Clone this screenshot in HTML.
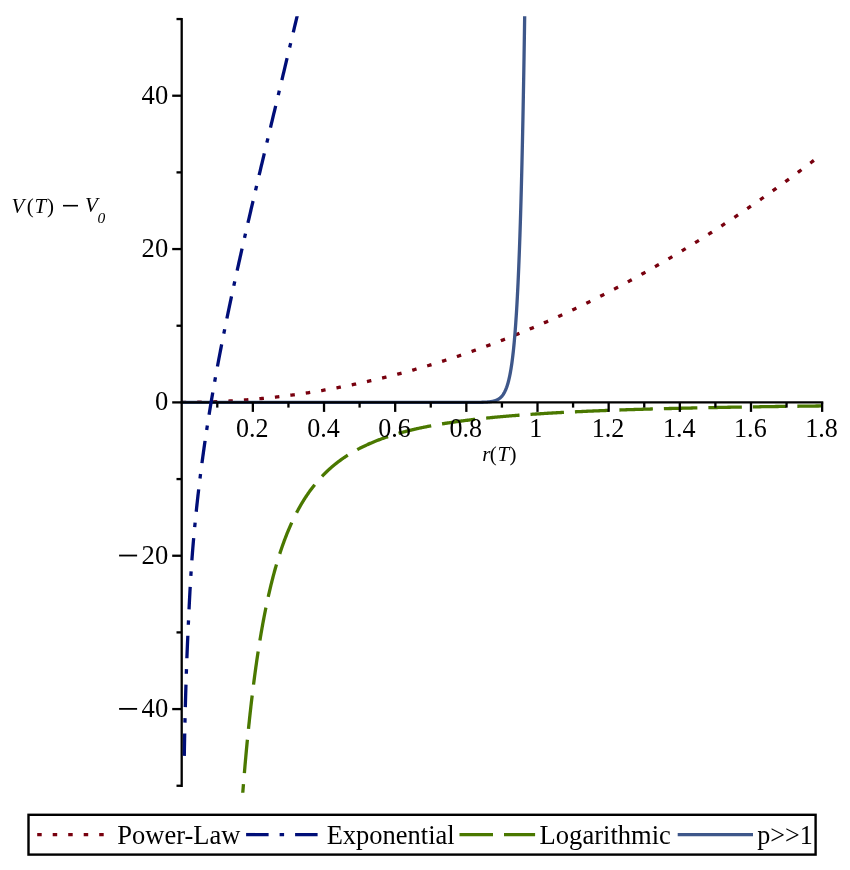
<!DOCTYPE html>
<html><head><meta charset="utf-8"><title>Plot</title>
<style>html,body{margin:0;padding:0;background:#fff;}body{width:850px;height:870px;overflow:hidden;font-family:"Liberation Serif",serif;}svg{display:block;will-change:transform}</style>
</head><body>
<svg width="850" height="870" viewBox="0 0 850 870">
<defs><clipPath id="cp"><rect x="0" y="16.3" width="850" height="776.5"/></clipPath></defs>
<rect width="850" height="870" fill="#fff"/>
<g fill="none" stroke-width="3.3" clip-path="url(#cp)" stroke-linejoin="round">
<path d="M181.70,402.40 L182.77,402.40 L183.84,402.40 L184.91,402.39 L185.98,402.39 L187.05,402.38 L188.12,402.38 L189.18,402.37 L190.25,402.36 L191.32,402.34 L192.39,402.33 L193.46,402.32 L194.53,402.30 L195.60,402.28 L196.67,402.26 L197.74,402.24 L198.81,402.22 L199.88,402.20 L200.95,402.18 L202.01,402.15 L203.08,402.12 L204.15,402.09 L205.22,402.06 L206.29,402.03 L207.36,402.00 L208.43,401.97 L209.50,401.93 L210.57,401.90 L211.64,401.86 L212.71,401.82 L213.78,401.78 L214.84,401.73 L215.91,401.69 L216.98,401.65 L218.05,401.60 L219.12,401.55 L220.19,401.50 L221.26,401.45 L222.33,401.40 L223.40,401.35 L224.47,401.29 L225.54,401.24 L226.61,401.18 L227.67,401.12 L228.74,401.06 L229.81,401.00 L230.88,400.94 L231.95,400.87 L233.02,400.80 L234.09,400.74 L235.16,400.67 L236.23,400.60 L237.30,400.53 L238.37,400.46 L239.44,400.38 L240.51,400.31 L241.57,400.23 L242.64,400.15 L243.71,400.07 L244.78,399.99 L245.85,399.91 L246.92,399.82 L247.99,399.74 L249.06,399.65 L250.13,399.56 L251.20,399.47 L252.27,399.38 L253.34,399.29 L254.40,399.20 L255.47,399.10 L256.54,399.01 L257.61,398.91 L258.68,398.81 L259.75,398.71 L260.82,398.61 L261.89,398.51 L262.96,398.40 L264.03,398.30 L265.10,398.19 L266.17,398.08 L267.23,397.97 L268.30,397.86 L269.37,397.74 L270.44,397.63 L271.51,397.51 L272.58,397.40 L273.65,397.28 L274.72,397.16 L275.79,397.04 L276.86,396.92 L277.93,396.79 L279.00,396.67 L280.06,396.54 L281.13,396.41 L282.20,396.28 L283.27,396.15 L284.34,396.02 L285.41,395.89 L286.48,395.75 L287.55,395.61 L288.62,395.48 L289.69,395.34 L290.76,395.20 L291.83,395.06 L292.89,394.91 L293.96,394.77 L295.03,394.62 L296.10,394.47 L297.17,394.32 L298.24,394.17 L299.31,394.02 L300.38,393.87 L301.45,393.72 L302.52,393.56 L303.59,393.40 L304.66,393.24 L305.73,393.08 L306.79,392.92 L307.86,392.76 L308.93,392.60 L310.00,392.43 L311.07,392.26 L312.14,392.10 L313.21,391.93 L314.28,391.75 L315.35,391.58 L316.42,391.41 L317.49,391.23 L318.56,391.06 L319.62,390.88 L320.69,390.70 L321.76,390.52 L322.83,390.34 L323.90,390.15 L324.97,389.97 L326.04,389.78 L327.11,389.59 L328.18,389.41 L329.25,389.22 L330.32,389.02 L331.39,388.83 L332.45,388.64 L333.52,388.44 L334.59,388.24 L335.66,388.04 L336.73,387.84 L337.80,387.64 L338.87,387.44 L339.94,387.24 L341.01,387.03 L342.08,386.82 L343.15,386.61 L344.22,386.40 L345.28,386.19 L346.35,385.98 L347.42,385.77 L348.49,385.55 L349.56,385.33 L350.63,385.12 L351.70,384.90 L352.77,384.68 L353.84,384.45 L354.91,384.23 L355.98,384.01 L357.05,383.78 L358.12,383.55 L359.18,383.32 L360.25,383.09 L361.32,382.86 L362.39,382.63 L363.46,382.39 L364.53,382.16 L365.60,381.92 L366.67,381.68 L367.74,381.44 L368.81,381.20 L369.88,380.95 L370.95,380.71 L372.01,380.46 L373.08,380.22 L374.15,379.97 L375.22,379.72 L376.29,379.47 L377.36,379.21 L378.43,378.96 L379.50,378.70 L380.57,378.45 L381.64,378.19 L382.71,377.93 L383.78,377.67 L384.84,377.41 L385.91,377.14 L386.98,376.88 L388.05,376.61 L389.12,376.34 L390.19,376.07 L391.26,375.80 L392.33,375.53 L393.40,375.26 L394.47,374.98 L395.54,374.71 L396.61,374.43 L397.67,374.15 L398.74,373.87 L399.81,373.59 L400.88,373.30 L401.95,373.02 L403.02,372.73 L404.09,372.45 L405.16,372.16 L406.23,371.87 L407.30,371.58 L408.37,371.28 L409.44,370.99 L410.50,370.69 L411.57,370.40 L412.64,370.10 L413.71,369.80 L414.78,369.50 L415.85,369.19 L416.92,368.89 L417.99,368.59 L419.06,368.28 L420.13,367.97 L421.20,367.66 L422.27,367.35 L423.34,367.04 L424.40,366.72 L425.47,366.41 L426.54,366.09 L427.61,365.78 L428.68,365.46 L429.75,365.14 L430.82,364.81 L431.89,364.49 L432.96,364.17 L434.03,363.84 L435.10,363.51 L436.17,363.18 L437.23,362.85 L438.30,362.52 L439.37,362.19 L440.44,361.85 L441.51,361.52 L442.58,361.18 L443.65,360.84 L444.72,360.50 L445.79,360.16 L446.86,359.82 L447.93,359.47 L449.00,359.13 L450.06,358.78 L451.13,358.43 L452.20,358.08 L453.27,357.73 L454.34,357.38 L455.41,357.03 L456.48,356.67 L457.55,356.32 L458.62,355.96 L459.69,355.60 L460.76,355.24 L461.83,354.88 L462.89,354.51 L463.96,354.15 L465.03,353.78 L466.10,353.41 L467.17,353.04 L468.24,352.67 L469.31,352.30 L470.38,351.93 L471.45,351.55 L472.52,351.18 L473.59,350.80 L474.66,350.42 L475.73,350.04 L476.79,349.66 L477.86,349.28 L478.93,348.89 L480.00,348.51 L481.07,348.12 L482.14,347.73 L483.21,347.34 L484.28,346.95 L485.35,346.56 L486.42,346.17 L487.49,345.77 L488.56,345.37 L489.62,344.97 L490.69,344.58 L491.76,344.17 L492.83,343.77 L493.90,343.37 L494.97,342.96 L496.04,342.56 L497.11,342.15 L498.18,341.74 L499.25,341.33 L500.32,340.92 L501.39,340.50 L502.45,340.09 L503.52,339.67 L504.59,339.26 L505.66,338.84 L506.73,338.42 L507.80,338.00 L508.87,337.57 L509.94,337.15 L511.01,336.72 L512.08,336.30 L513.15,335.87 L514.22,335.44 L515.28,335.01 L516.35,334.57 L517.42,334.14 L518.49,333.70 L519.56,333.27 L520.63,332.83 L521.70,332.39 L522.77,331.95 L523.84,331.50 L524.91,331.06 L525.98,330.62 L527.05,330.17 L528.11,329.72 L529.18,329.27 L530.25,328.82 L531.32,328.37 L532.39,327.92 L533.46,327.46 L534.53,327.00 L535.60,326.55 L536.67,326.09 L537.74,325.63 L538.81,325.17 L539.88,324.70 L540.95,324.24 L542.01,323.77 L543.08,323.30 L544.15,322.84 L545.22,322.37 L546.29,321.89 L547.36,321.42 L548.43,320.95 L549.50,320.47 L550.57,319.99 L551.64,319.52 L552.71,319.04 L553.78,318.56 L554.84,318.07 L555.91,317.59 L556.98,317.10 L558.05,316.62 L559.12,316.13 L560.19,315.64 L561.26,315.15 L562.33,314.66 L563.40,314.16 L564.47,313.67 L565.54,313.17 L566.61,312.67 L567.67,312.17 L568.74,311.67 L569.81,311.17 L570.88,310.67 L571.95,310.16 L573.02,309.66 L574.09,309.15 L575.16,308.64 L576.23,308.13 L577.30,307.62 L578.37,307.11 L579.44,306.59 L580.50,306.08 L581.57,305.56 L582.64,305.04 L583.71,304.52 L584.78,304.00 L585.85,303.48 L586.92,302.95 L587.99,302.43 L589.06,301.90 L590.13,301.37 L591.20,300.84 L592.27,300.31 L593.34,299.78 L594.40,299.24 L595.47,298.71 L596.54,298.17 L597.61,297.64 L598.68,297.10 L599.75,296.56 L600.82,296.01 L601.89,295.47 L602.96,294.92 L604.03,294.38 L605.10,293.83 L606.17,293.28 L607.23,292.73 L608.30,292.18 L609.37,291.63 L610.44,291.07 L611.51,290.52 L612.58,289.96 L613.65,289.40 L614.72,288.84 L615.79,288.28 L616.86,287.72 L617.93,287.15 L619.00,286.59 L620.06,286.02 L621.13,285.45 L622.20,284.88 L623.27,284.31 L624.34,283.74 L625.41,283.16 L626.48,282.59 L627.55,282.01 L628.62,281.43 L629.69,280.85 L630.76,280.27 L631.83,279.69 L632.89,279.11 L633.96,278.52 L635.03,277.93 L636.10,277.35 L637.17,276.76 L638.24,276.17 L639.31,275.58 L640.38,274.98 L641.45,274.39 L642.52,273.79 L643.59,273.19 L644.66,272.59 L645.72,271.99 L646.79,271.39 L647.86,270.79 L648.93,270.19 L650.00,269.58 L651.07,268.97 L652.14,268.36 L653.21,267.75 L654.28,267.14 L655.35,266.53 L656.42,265.92 L657.49,265.30 L658.56,264.68 L659.62,264.07 L660.69,263.45 L661.76,262.82 L662.83,262.20 L663.90,261.58 L664.97,260.95 L666.04,260.33 L667.11,259.70 L668.18,259.07 L669.25,258.44 L670.32,257.81 L671.39,257.17 L672.45,256.54 L673.52,255.90 L674.59,255.26 L675.66,254.63 L676.73,253.98 L677.80,253.34 L678.87,252.70 L679.94,252.06 L681.01,251.41 L682.08,250.76 L683.15,250.11 L684.22,249.46 L685.28,248.81 L686.35,248.16 L687.42,247.50 L688.49,246.85 L689.56,246.19 L690.63,245.53 L691.70,244.87 L692.77,244.21 L693.84,243.55 L694.91,242.89 L695.98,242.22 L697.05,241.55 L698.11,240.89 L699.18,240.22 L700.25,239.55 L701.32,238.87 L702.39,238.20 L703.46,237.52 L704.53,236.85 L705.60,236.17 L706.67,235.49 L707.74,234.81 L708.81,234.13 L709.88,233.45 L710.95,232.76 L712.01,232.07 L713.08,231.39 L714.15,230.70 L715.22,230.01 L716.29,229.32 L717.36,228.62 L718.43,227.93 L719.50,227.23 L720.57,226.54 L721.64,225.84 L722.71,225.14 L723.78,224.44 L724.84,223.73 L725.91,223.03 L726.98,222.32 L728.05,221.62 L729.12,220.91 L730.19,220.20 L731.26,219.49 L732.33,218.78 L733.40,218.06 L734.47,217.35 L735.54,216.63 L736.61,215.91 L737.67,215.19 L738.74,214.47 L739.81,213.75 L740.88,213.03 L741.95,212.30 L743.02,211.57 L744.09,210.85 L745.16,210.12 L746.23,209.39 L747.30,208.66 L748.37,207.92 L749.44,207.19 L750.50,206.45 L751.57,205.71 L752.64,204.98 L753.71,204.24 L754.78,203.49 L755.85,202.75 L756.92,202.01 L757.99,201.26 L759.06,200.51 L760.13,199.77 L761.20,199.02 L762.27,198.27 L763.33,197.51 L764.40,196.76 L765.47,196.00 L766.54,195.25 L767.61,194.49 L768.68,193.73 L769.75,192.97 L770.82,192.21 L771.89,191.44 L772.96,190.68 L774.03,189.91 L775.10,189.14 L776.17,188.37 L777.23,187.60 L778.30,186.83 L779.37,186.06 L780.44,185.28 L781.51,184.51 L782.58,183.73 L783.65,182.95 L784.72,182.17 L785.79,181.39 L786.86,180.61 L787.93,179.82 L789.00,179.04 L790.06,178.25 L791.13,177.46 L792.20,176.67 L793.27,175.88 L794.34,175.09 L795.41,174.29 L796.48,173.50 L797.55,172.70 L798.62,171.90 L799.69,171.10 L800.76,170.30 L801.83,169.50 L802.89,168.69 L803.96,167.89 L805.03,167.08 L806.10,166.27 L807.17,165.47 L808.24,164.65 L809.31,163.84 L810.38,163.03 L811.45,162.21 L812.52,161.40 L813.59,160.58 L814.66,159.76 L815.72,158.94 L816.79,158.12 L817.86,157.30 L818.93,156.47 L820.00,155.65 L821.07,154.82 L822.14,153.99" stroke="#78000E" stroke-dasharray="4.5 11.066"/>
<path d="M240.41,824.82 L240.58,822.31 L240.76,819.80 L240.94,817.31 L241.11,814.84 L241.29,812.38 L241.47,809.93 L241.65,807.50 L241.83,805.09 L242.01,802.69 L242.19,800.30 L242.37,797.92 L242.55,795.57 L242.73,793.22 L242.92,790.89 L243.10,788.57 L243.28,786.27 L243.47,783.98 L243.65,781.71 L243.84,779.44 L244.03,777.20 L244.21,774.96 L244.40,772.74 L244.59,770.53 L244.78,768.33 L244.96,766.15 L245.15,763.98 L245.34,761.83 L245.53,759.68 L245.73,757.55 L245.92,755.43 L246.11,753.33 L246.30,751.24 L246.50,749.16 L246.69,747.09 L246.89,745.03 L247.08,742.99 L247.28,740.96 L247.47,738.94 L247.67,736.93 L247.87,734.94 L248.07,732.95 L248.26,730.98 L248.46,729.02 L248.66,727.08 L248.86,725.14 L249.07,723.21 L249.27,721.30 L249.47,719.40 L249.67,717.51 L249.88,715.63 L250.08,713.76 L250.29,711.90 L250.49,710.06 L250.70,708.22 L250.90,706.40 L251.11,704.59 L251.32,702.79 L251.53,700.99 L251.74,699.21 L251.95,697.44 L252.16,695.68 L252.37,693.93 L252.58,692.20 L252.79,690.47 L253.00,688.75 L253.22,687.04 L253.43,685.34 L253.65,683.66 L253.86,681.98 L254.08,680.31 L254.30,678.66 L254.51,677.01 L254.73,675.37 L254.95,673.74 L255.17,672.12 L255.39,670.52 L255.61,668.92 L255.83,667.33 L256.05,665.75 L256.28,664.18 L256.50,662.62 L256.72,661.06 L256.95,659.52 L257.17,657.99 L257.40,656.46 L257.63,654.95 L257.85,653.44 L258.08,651.95 L258.31,650.46 L258.54,648.98 L258.77,647.51 L259.00,646.05 L259.23,644.59 L259.46,643.15 L259.70,641.71 L259.93,640.29 L260.17,638.87 L260.40,637.46 L260.64,636.05 L260.87,634.66 L261.11,633.28 L261.35,631.90 L261.59,630.53 L261.83,629.17 L262.07,627.82 L262.31,626.47 L262.55,625.14 L262.79,623.81 L263.03,622.49 L263.28,621.18 L263.52,619.87 L263.77,618.57 L264.01,617.29 L264.26,616.00 L264.51,614.73 L264.75,613.46 L265.00,612.20 L265.25,610.95 L265.50,609.71 L265.75,608.47 L266.00,607.24 L266.26,606.02 L266.51,604.81 L266.76,603.60 L267.02,602.40 L267.27,601.21 L267.53,600.02 L267.79,598.84 L268.05,597.67 L268.30,596.51 L268.56,595.35 L268.82,594.20 L269.09,593.06 L269.35,591.92 L269.61,590.79 L269.87,589.67 L270.14,588.55 L270.40,587.44 L270.67,586.34 L270.93,585.24 L271.20,584.15 L271.47,583.06 L271.74,581.99 L272.01,580.92 L272.28,579.85 L272.55,578.79 L272.82,577.74 L273.09,576.70 L273.37,575.66 L273.64,574.62 L273.92,573.60 L274.19,572.57 L274.47,571.56 L274.75,570.55 L275.03,569.55 L275.31,568.55 L275.59,567.56 L275.87,566.58 L276.15,565.60 L276.43,564.62 L276.72,563.66 L277.00,562.69 L277.29,561.74 L277.57,560.79 L277.86,559.84 L278.15,558.90 L278.44,557.97 L278.73,557.04 L279.02,556.12 L279.31,555.20 L279.60,554.29 L279.90,553.39 L280.19,552.49 L280.49,551.59 L280.78,550.70 L281.08,549.82 L281.38,548.94 L281.67,548.06 L281.97,547.20 L282.27,546.33 L282.57,545.47 L282.88,544.62 L283.18,543.77 L283.48,542.93 L283.79,542.09 L284.09,541.26 L284.40,540.43 L284.71,539.61 L285.02,538.79 L285.33,537.98 L285.64,537.17 L285.95,536.36 L286.26,535.56 L286.57,534.77 L286.89,533.98 L287.20,533.20 L287.52,532.42 L287.84,531.64 L288.15,530.87 L288.47,530.10 L288.79,529.34 L289.11,528.59 L289.44,527.83 L289.76,527.09 L290.08,526.34 L290.41,525.60 L290.73,524.87 L291.06,524.14 L291.39,523.41 L291.71,522.69 L292.04,521.97 L292.37,521.26 L292.71,520.55 L293.04,519.85 L293.37,519.15 L293.71,518.45 L294.04,517.76 L294.38,517.07 L294.72,516.39 L295.05,515.71 L295.39,515.03 L295.73,514.36 L296.08,513.69 L296.42,513.03 L296.76,512.37 L297.11,511.71 L297.45,511.06 L297.80,510.41 L298.15,509.77 L298.50,509.13 L298.85,508.49 L299.20,507.86 L299.55,507.23 L299.90,506.60 L300.26,505.98 L300.61,505.36 L300.97,504.75 L301.32,504.14 L301.68,503.53 L302.04,502.93 L302.40,502.33 L302.76,501.73 L303.13,501.14 L303.49,500.55 L303.85,499.97 L304.22,499.39 L304.59,498.81 L304.96,498.23 L305.32,497.66 L305.70,497.09 L306.07,496.53 L306.44,495.97 L306.81,495.41 L307.19,494.85 L307.56,494.30 L307.94,493.76 L308.32,493.21 L308.70,492.67 L309.08,492.13 L309.46,491.60 L309.84,491.06 L310.23,490.53 L310.61,490.01 L311.00,489.49 L311.38,488.97 L311.77,488.45 L312.16,487.94 L312.55,487.43 L312.95,486.92 L313.34,486.42 L313.73,485.92 L314.13,485.42 L314.52,484.92 L314.92,484.43 L315.32,483.94 L315.72,483.45 L316.12,482.97 L316.53,482.49 L316.93,482.01 L317.33,481.54 L317.74,481.07 L318.15,480.60 L318.56,480.13 L318.97,479.67 L319.38,479.21 L319.79,478.75 L320.20,478.29 L320.62,477.84 L321.03,477.39 L321.45,476.94 L321.87,476.50 L322.29,476.06 L322.71,475.62 L323.13,475.18 L323.56,474.75 L323.98,474.32 L324.41,473.89 L324.84,473.46 L325.27,473.04 L325.70,472.62 L326.13,472.20 L326.56,471.78 L326.99,471.37 L327.43,470.96 L327.86,470.55 L328.30,470.14 L328.74,469.74 L329.18,469.33 L329.62,468.94 L330.07,468.54 L330.51,468.14 L330.96,467.75 L331.40,467.36 L331.85,466.98 L332.30,466.59 L332.75,466.21 L333.21,465.83 L333.66,465.45 L334.11,465.07 L334.57,464.70 L335.03,464.33 L335.49,463.96 L335.95,463.59 L336.41,463.23 L336.87,462.86 L337.34,462.50 L337.81,462.14 L338.27,461.79 L338.74,461.43 L339.21,461.08 L339.68,460.73 L340.16,460.38 L340.63,460.04 L341.11,459.69 L341.59,459.35 L342.06,459.01 L342.54,458.68 L343.03,458.34 L343.51,458.01 L343.99,457.67 L344.48,457.34 L344.97,457.02 L345.46,456.69 L345.95,456.37 L346.44,456.05 L346.93,455.73 L347.43,455.41 L347.92,455.09 L348.42,454.78 L348.92,454.47 L349.42,454.15 L349.92,453.85 L350.43,453.54 L350.93,453.23 L351.44,452.93 L351.95,452.63 L352.46,452.33 L352.97,452.03 L353.48,451.74 L354.00,451.44 L354.51,451.15 L355.03,450.86 L355.55,450.57 L356.07,450.28 L356.59,450.00 L357.12,449.71 L357.64,449.43 L358.17,449.15 L358.70,448.87 L359.23,448.59 L359.76,448.32 L360.29,448.05 L360.83,447.77 L361.36,447.50 L361.90,447.23 L362.44,446.97 L362.98,446.70 L363.53,446.44 L364.07,446.17 L364.62,445.91 L365.17,445.65 L365.72,445.40 L366.27,445.14 L366.82,444.88 L367.37,444.63 L367.93,444.38 L368.49,444.13 L369.05,443.88 L369.61,443.63 L370.17,443.39 L370.74,443.14 L371.30,442.90 L371.87,442.66 L372.44,442.42 L373.01,442.18 L373.58,441.94 L374.16,441.71 L374.73,441.47 L375.31,441.24 L375.89,441.01 L376.47,440.78 L377.06,440.55 L377.64,440.32 L378.23,440.09 L378.82,439.87 L379.41,439.65 L380.00,439.42 L380.60,439.20 L381.19,438.98 L381.79,438.77 L382.39,438.55 L382.99,438.33 L383.59,438.12 L384.20,437.91 L384.80,437.69 L385.41,437.48 L386.02,437.27 L386.63,437.07 L387.25,436.86 L387.86,436.65 L388.48,436.45 L389.10,436.25 L389.72,436.04 L390.34,435.84 L390.97,435.64 L391.60,435.45 L392.22,435.25 L392.86,435.05 L393.49,434.86 L394.12,434.66 L394.76,434.47 L395.40,434.28 L396.04,434.09 L396.68,433.90 L397.32,433.71 L397.97,433.53 L398.62,433.34 L399.27,433.16 L399.92,432.97 L400.57,432.79 L401.23,432.61 L401.88,432.43 L402.54,432.25 L403.20,432.07 L403.87,431.90 L404.53,431.72 L405.20,431.55 L405.87,431.37 L406.54,431.20 L407.22,431.03 L407.89,430.86 L408.57,430.69 L409.25,430.52 L409.93,430.35 L410.61,430.18 L411.30,430.02 L411.99,429.85 L412.68,429.69 L413.37,429.53 L414.06,429.36 L414.76,429.20 L415.46,429.04 L416.16,428.89 L416.86,428.73 L417.56,428.57 L418.27,428.41 L418.98,428.26 L419.69,428.10 L420.40,427.95 L421.12,427.80 L421.83,427.65 L422.55,427.50 L423.27,427.35 L424.00,427.20 L424.72,427.05 L425.45,426.90 L426.18,426.76 L426.91,426.61 L427.65,426.47 L428.38,426.32 L429.12,426.18 L429.86,426.04 L430.61,425.90 L431.35,425.76 L432.10,425.62 L432.85,425.48 L433.60,425.34 L434.36,425.21 L435.11,425.07 L435.87,424.94 L436.64,424.80 L437.40,424.67 L438.16,424.53 L438.93,424.40 L439.70,424.27 L440.48,424.14 L441.25,424.01 L442.03,423.88 L442.81,423.75 L443.59,423.63 L444.37,423.50 L445.16,423.37 L445.95,423.25 L446.74,423.13 L447.54,423.00 L448.33,422.88 L449.13,422.76 L449.93,422.64 L450.74,422.51 L451.54,422.39 L452.35,422.28 L453.16,422.16 L453.97,422.04 L454.79,421.92 L455.61,421.81 L456.43,421.69 L457.25,421.57 L458.08,421.46 L458.90,421.35 L459.73,421.23 L460.57,421.12 L461.40,421.01 L462.24,420.90 L463.08,420.79 L463.92,420.68 L464.77,420.57 L465.62,420.46 L466.47,420.35 L467.32,420.25 L468.17,420.14 L469.03,420.03 L469.89,419.93 L470.76,419.82 L471.62,419.72 L472.49,419.62 L473.36,419.51 L474.23,419.41 L475.11,419.31 L475.99,419.21 L476.87,419.11 L477.76,419.01 L478.64,418.91 L479.53,418.81 L480.42,418.72 L481.32,418.62 L482.22,418.52 L483.12,418.42 L484.02,418.33 L484.92,418.23 L485.83,418.14 L486.74,418.05 L487.66,417.95 L488.57,417.86 L489.49,417.77 L490.41,417.68 L491.34,417.59 L492.27,417.49 L493.20,417.40 L494.13,417.32 L495.07,417.23 L496.00,417.14 L496.95,417.05 L497.89,416.96 L498.84,416.88 L499.79,416.79 L500.74,416.70 L501.69,416.62 L502.65,416.53 L503.61,416.45 L504.58,416.37 L505.55,416.28 L506.52,416.20 L507.49,416.12 L508.46,416.04 L509.44,415.95 L510.43,415.87 L511.41,415.79 L512.40,415.71 L513.39,415.63 L514.38,415.55 L515.38,415.48 L516.38,415.40 L517.38,415.32 L518.38,415.24 L519.39,415.17 L520.40,415.09 L521.42,415.02 L522.44,414.94 L523.46,414.87 L524.48,414.79 L525.51,414.72 L526.54,414.64 L527.57,414.57 L528.61,414.50 L529.65,414.43 L530.69,414.35 L531.73,414.28 L532.78,414.21 L533.83,414.14 L534.89,414.07 L535.95,414.00 L537.01,413.93 L538.07,413.86 L539.14,413.80 L540.21,413.73 L541.28,413.66 L542.36,413.59 L543.44,413.53 L544.52,413.46 L545.61,413.39 L546.70,413.33 L547.79,413.26 L548.89,413.20 L549.99,413.13 L551.09,413.07 L552.20,413.01 L553.31,412.94 L554.42,412.88 L555.54,412.82 L556.66,412.76 L557.78,412.69 L558.91,412.63 L560.04,412.57 L561.17,412.51 L562.31,412.45 L563.45,412.39 L564.59,412.33 L565.74,412.27 L566.89,412.21 L568.04,412.15 L569.20,412.10 L570.36,412.04 L571.52,411.98 L572.69,411.92 L573.86,411.87 L575.04,411.81 L576.21,411.75 L577.40,411.70 L578.58,411.64 L579.77,411.59 L580.96,411.53 L582.16,411.48 L583.36,411.42 L584.56,411.37 L585.77,411.32 L586.98,411.26 L588.19,411.21 L589.41,411.16 L590.63,411.11 L591.86,411.05 L593.08,411.00 L594.32,410.95 L595.55,410.90 L596.79,410.85 L598.03,410.80 L599.28,410.75 L600.53,410.70 L601.79,410.65 L603.05,410.60 L604.31,410.55 L605.57,410.50 L606.84,410.45 L608.12,410.41 L609.39,410.36 L610.67,410.31 L611.96,410.26 L613.25,410.22 L614.54,410.17 L615.84,410.12 L617.14,410.08 L618.44,410.03 L619.75,409.99 L621.06,409.94 L622.38,409.90 L623.70,409.85 L625.02,409.81 L626.35,409.76 L627.68,409.72 L629.02,409.68 L630.36,409.63 L631.70,409.59 L633.05,409.55 L634.40,409.50 L635.76,409.46 L637.12,409.42 L638.48,409.38 L639.85,409.34 L641.22,409.29 L642.60,409.25 L643.98,409.21 L645.36,409.17 L646.75,409.13 L648.14,409.09 L649.54,409.05 L650.94,409.01 L652.35,408.97 L653.76,408.93 L655.17,408.89 L656.59,408.86 L658.01,408.82 L659.44,408.78 L660.87,408.74 L662.30,408.70 L663.74,408.67 L665.19,408.63 L666.64,408.59 L668.09,408.55 L669.55,408.52 L671.01,408.48 L672.47,408.44 L673.94,408.41 L675.42,408.37 L676.90,408.34 L678.38,408.30 L679.87,408.27 L681.36,408.23 L682.85,408.20 L684.36,408.16 L685.86,408.13 L687.37,408.09 L688.89,408.06 L690.41,408.03 L691.93,407.99 L693.46,407.96 L694.99,407.93 L696.53,407.89 L698.07,407.86 L699.62,407.83 L701.17,407.80 L702.72,407.76 L704.28,407.73 L705.85,407.70 L707.42,407.67 L708.99,407.64 L710.57,407.61 L712.16,407.57 L713.75,407.54 L715.34,407.51 L716.94,407.48 L718.54,407.45 L720.15,407.42 L721.76,407.39 L723.38,407.36 L725.00,407.33 L726.63,407.30 L728.26,407.27 L729.90,407.24 L731.54,407.22 L733.19,407.19 L734.84,407.16 L736.50,407.13 L738.16,407.10 L739.82,407.07 L741.50,407.05 L743.17,407.02 L744.85,406.99 L746.54,406.96 L748.23,406.94 L749.93,406.91 L751.63,406.88 L753.34,406.86 L755.05,406.83 L756.77,406.80 L758.49,406.78 L760.22,406.75 L761.95,406.72 L763.69,406.70 L765.43,406.67 L767.18,406.65 L768.93,406.62 L770.69,406.60 L772.46,406.57 L774.23,406.55 L776.00,406.52 L777.78,406.50 L779.57,406.47 L781.36,406.45 L783.15,406.42 L784.96,406.40 L786.76,406.38 L788.57,406.35 L790.39,406.33 L792.22,406.31 L794.04,406.28 L795.88,406.26 L797.72,406.24 L799.56,406.21 L801.41,406.19 L803.27,406.17 L805.13,406.15 L807.00,406.12 L808.87,406.10 L810.75,406.08 L812.63,406.06 L814.52,406.04 L816.42,406.01 L818.32,405.99 L820.23,405.97 L822.14,405.95" stroke="#4A7800" stroke-dasharray="33.5 11.0" stroke-dashoffset="37.16"/>
<path d="M181.70,402.40 L181.93,402.40 L182.16,402.40 L182.39,402.40 L182.62,402.40 L182.85,402.40 L183.08,402.40 L183.31,402.40 L183.54,402.40 L183.77,402.40 L184.00,402.40 L184.23,402.40 L184.46,402.40 L184.69,402.40 L184.92,402.40 L185.15,402.40 L185.38,402.40 L185.61,402.40 L185.84,402.40 L186.07,402.40 L186.30,402.40 L186.53,402.40 L186.77,402.40 L187.00,402.40 L187.23,402.40 L187.46,402.40 L187.69,402.40 L187.92,402.40 L188.15,402.40 L188.38,402.40 L188.61,402.40 L188.84,402.40 L189.07,402.40 L189.30,402.40 L189.53,402.40 L189.76,402.40 L189.99,402.40 L190.22,402.40 L190.45,402.40 L190.68,402.40 L190.91,402.40 L191.14,402.40 L191.37,402.40 L191.60,402.40 L191.83,402.40 L192.06,402.40 L192.29,402.40 L192.52,402.40 L192.75,402.40 L192.98,402.40 L193.21,402.40 L193.44,402.40 L193.67,402.40 L193.90,402.40 L194.13,402.40 L194.36,402.40 L194.59,402.40 L194.82,402.40 L195.05,402.40 L195.28,402.40 L195.51,402.40 L195.74,402.40 L195.97,402.40 L196.20,402.40 L196.44,402.40 L196.67,402.40 L196.90,402.40 L197.13,402.40 L197.36,402.40 L197.59,402.40 L197.82,402.40 L198.05,402.40 L198.28,402.40 L198.51,402.40 L198.74,402.40 L198.97,402.40 L199.20,402.40 L199.43,402.40 L199.66,402.40 L199.89,402.40 L200.12,402.40 L200.35,402.40 L200.58,402.40 L200.81,402.40 L201.04,402.40 L201.27,402.40 L201.50,402.40 L201.73,402.40 L201.96,402.40 L202.19,402.40 L202.42,402.40 L202.65,402.40 L202.88,402.40 L203.11,402.40 L203.34,402.40 L203.57,402.40 L203.80,402.40 L204.03,402.40 L204.26,402.40 L204.49,402.40 L204.72,402.40 L204.95,402.40 L205.18,402.40 L205.41,402.40 L205.64,402.40 L205.87,402.40 L206.11,402.40 L206.34,402.40 L206.57,402.40 L206.80,402.40 L207.03,402.40 L207.26,402.40 L207.49,402.40 L207.72,402.40 L207.95,402.40 L208.18,402.40 L208.41,402.40 L208.64,402.40 L208.87,402.40 L209.10,402.40 L209.33,402.40 L209.56,402.40 L209.79,402.40 L210.02,402.40 L210.25,402.40 L210.48,402.40 L210.71,402.40 L210.94,402.40 L211.17,402.40 L211.40,402.40 L211.63,402.40 L211.86,402.40 L212.09,402.40 L212.32,402.40 L212.55,402.40 L212.78,402.40 L213.01,402.40 L213.24,402.40 L213.47,402.40 L213.70,402.40 L213.93,402.40 L214.16,402.40 L214.39,402.40 L214.62,402.40 L214.85,402.40 L215.08,402.40 L215.31,402.40 L215.54,402.40 L215.78,402.40 L216.01,402.40 L216.24,402.40 L216.47,402.40 L216.70,402.40 L216.93,402.40 L217.16,402.40 L217.39,402.40 L217.62,402.40 L217.85,402.40 L218.08,402.40 L218.31,402.40 L218.54,402.40 L218.77,402.40 L219.00,402.40 L219.23,402.40 L219.46,402.40 L219.69,402.40 L219.92,402.40 L220.15,402.40 L220.38,402.40 L220.61,402.40 L220.84,402.40 L221.07,402.40 L221.30,402.40 L221.53,402.40 L221.76,402.40 L221.99,402.40 L222.22,402.40 L222.45,402.40 L222.68,402.40 L222.91,402.40 L223.14,402.40 L223.37,402.40 L223.60,402.40 L223.83,402.40 L224.06,402.40 L224.29,402.40 L224.52,402.40 L224.75,402.40 L224.98,402.40 L225.21,402.40 L225.45,402.40 L225.68,402.40 L225.91,402.40 L226.14,402.40 L226.37,402.40 L226.60,402.40 L226.83,402.40 L227.06,402.40 L227.29,402.40 L227.52,402.40 L227.75,402.40 L227.98,402.40 L228.21,402.40 L228.44,402.40 L228.67,402.40 L228.90,402.40 L229.13,402.40 L229.36,402.40 L229.59,402.40 L229.82,402.40 L230.05,402.40 L230.28,402.40 L230.51,402.40 L230.74,402.40 L230.97,402.40 L231.20,402.40 L231.43,402.40 L231.66,402.40 L231.89,402.40 L232.12,402.40 L232.35,402.40 L232.58,402.40 L232.81,402.40 L233.04,402.40 L233.27,402.40 L233.50,402.40 L233.73,402.40 L233.96,402.40 L234.19,402.40 L234.42,402.40 L234.65,402.40 L234.88,402.40 L235.12,402.40 L235.35,402.40 L235.58,402.40 L235.81,402.40 L236.04,402.40 L236.27,402.40 L236.50,402.40 L236.73,402.40 L236.96,402.40 L237.19,402.40 L237.42,402.40 L237.65,402.40 L237.88,402.40 L238.11,402.40 L238.34,402.40 L238.57,402.40 L238.80,402.40 L239.03,402.40 L239.26,402.40 L239.49,402.40 L239.72,402.40 L239.95,402.40 L240.18,402.40 L240.41,402.40 L240.64,402.40 L240.87,402.40 L241.10,402.40 L241.33,402.40 L241.56,402.40 L241.79,402.40 L242.02,402.40 L242.25,402.40 L242.48,402.40 L242.71,402.40 L242.94,402.40 L243.17,402.40 L243.40,402.40 L243.63,402.40 L243.86,402.40 L244.09,402.40 L244.32,402.40 L244.55,402.40 L244.79,402.40 L245.02,402.40 L245.25,402.40 L245.48,402.40 L245.71,402.40 L245.94,402.40 L246.17,402.40 L246.40,402.40 L246.63,402.40 L246.86,402.40 L247.09,402.40 L247.32,402.40 L247.55,402.40 L247.78,402.40 L248.01,402.40 L248.24,402.40 L248.47,402.40 L248.70,402.40 L248.93,402.40 L249.16,402.40 L249.39,402.40 L249.62,402.40 L249.85,402.40 L250.08,402.40 L250.31,402.40 L250.54,402.40 L250.77,402.40 L251.00,402.40 L251.23,402.40 L251.46,402.40 L251.69,402.40 L251.92,402.40 L252.15,402.40 L252.38,402.40 L252.61,402.40 L252.84,402.40 L253.07,402.40 L253.30,402.40 L253.53,402.40 L253.76,402.40 L253.99,402.40 L254.22,402.40 L254.46,402.40 L254.69,402.40 L254.92,402.40 L255.15,402.40 L255.38,402.40 L255.61,402.40 L255.84,402.40 L256.07,402.40 L256.30,402.40 L256.53,402.40 L256.76,402.40 L256.99,402.40 L257.22,402.40 L257.45,402.40 L257.68,402.40 L257.91,402.40 L258.14,402.40 L258.37,402.40 L258.60,402.40 L258.83,402.40 L259.06,402.40 L259.29,402.40 L259.52,402.40 L259.75,402.40 L259.98,402.40 L260.21,402.40 L260.44,402.40 L260.67,402.40 L260.90,402.40 L261.13,402.40 L261.36,402.40 L261.59,402.40 L261.82,402.40 L262.05,402.40 L262.28,402.40 L262.51,402.40 L262.74,402.40 L262.97,402.40 L263.20,402.40 L263.43,402.40 L263.66,402.40 L263.89,402.40 L264.13,402.40 L264.36,402.40 L264.59,402.40 L264.82,402.40 L265.05,402.40 L265.28,402.40 L265.51,402.40 L265.74,402.40 L265.97,402.40 L266.20,402.40 L266.43,402.40 L266.66,402.40 L266.89,402.40 L267.12,402.40 L267.35,402.40 L267.58,402.40 L267.81,402.40 L268.04,402.40 L268.27,402.40 L268.50,402.40 L268.73,402.40 L268.96,402.40 L269.19,402.40 L269.42,402.40 L269.65,402.40 L269.88,402.40 L270.11,402.40 L270.34,402.40 L270.57,402.40 L270.80,402.40 L271.03,402.40 L271.26,402.40 L271.49,402.40 L271.72,402.40 L271.95,402.40 L272.18,402.40 L272.41,402.40 L272.64,402.40 L272.87,402.40 L273.10,402.40 L273.33,402.40 L273.56,402.40 L273.79,402.40 L274.03,402.40 L274.26,402.40 L274.49,402.40 L274.72,402.40 L274.95,402.40 L275.18,402.40 L275.41,402.40 L275.64,402.40 L275.87,402.40 L276.10,402.40 L276.33,402.40 L276.56,402.40 L276.79,402.40 L277.02,402.40 L277.25,402.40 L277.48,402.40 L277.71,402.40 L277.94,402.40 L278.17,402.40 L278.40,402.40 L278.63,402.40 L278.86,402.40 L279.09,402.40 L279.32,402.40 L279.55,402.40 L279.78,402.40 L280.01,402.40 L280.24,402.40 L280.47,402.40 L280.70,402.40 L280.93,402.40 L281.16,402.40 L281.39,402.40 L281.62,402.40 L281.85,402.40 L282.08,402.40 L282.31,402.40 L282.54,402.40 L282.77,402.40 L283.00,402.40 L283.23,402.40 L283.46,402.40 L283.70,402.40 L283.93,402.40 L284.16,402.40 L284.39,402.40 L284.62,402.40 L284.85,402.40 L285.08,402.40 L285.31,402.40 L285.54,402.40 L285.77,402.40 L286.00,402.40 L286.23,402.40 L286.46,402.40 L286.69,402.40 L286.92,402.40 L287.15,402.40 L287.38,402.40 L287.61,402.40 L287.84,402.40 L288.07,402.40 L288.30,402.40 L288.53,402.40 L288.76,402.40 L288.99,402.40 L289.22,402.40 L289.45,402.40 L289.68,402.40 L289.91,402.40 L290.14,402.40 L290.37,402.40 L290.60,402.40 L290.83,402.40 L291.06,402.40 L291.29,402.40 L291.52,402.40 L291.75,402.40 L291.98,402.40 L292.21,402.40 L292.44,402.40 L292.67,402.40 L292.90,402.40 L293.13,402.40 L293.37,402.40 L293.60,402.40 L293.83,402.40 L294.06,402.40 L294.29,402.40 L294.52,402.40 L294.75,402.40 L294.98,402.40 L295.21,402.40 L295.44,402.40 L295.67,402.40 L295.90,402.40 L296.13,402.40 L296.36,402.40 L296.59,402.40 L296.82,402.40 L297.05,402.40 L297.28,402.40 L297.51,402.40 L297.74,402.40 L297.97,402.40 L298.20,402.40 L298.43,402.40 L298.66,402.40 L298.89,402.40 L299.12,402.40 L299.35,402.40 L299.58,402.40 L299.81,402.40 L300.04,402.40 L300.27,402.40 L300.50,402.40 L300.73,402.40 L300.96,402.40 L301.19,402.40 L301.42,402.40 L301.65,402.40 L301.88,402.40 L302.11,402.40 L302.34,402.40 L302.57,402.40 L302.80,402.40 L303.04,402.40 L303.27,402.40 L303.50,402.40 L303.73,402.40 L303.96,402.40 L304.19,402.40 L304.42,402.40 L304.65,402.40 L304.88,402.40 L305.11,402.40 L305.34,402.40 L305.57,402.40 L305.80,402.40 L306.03,402.40 L306.26,402.40 L306.49,402.40 L306.72,402.40 L306.95,402.40 L307.18,402.40 L307.41,402.40 L307.64,402.40 L307.87,402.40 L308.10,402.40 L308.33,402.40 L308.56,402.40 L308.79,402.40 L309.02,402.40 L309.25,402.40 L309.48,402.40 L309.71,402.40 L309.94,402.40 L310.17,402.40 L310.40,402.40 L310.63,402.40 L310.86,402.40 L311.09,402.40 L311.32,402.40 L311.55,402.40 L311.78,402.40 L312.01,402.40 L312.24,402.40 L312.47,402.40 L312.71,402.40 L312.94,402.40 L313.17,402.40 L313.40,402.40 L313.63,402.40 L313.86,402.40 L314.09,402.40 L314.32,402.40 L314.55,402.40 L314.78,402.40 L315.01,402.40 L315.24,402.40 L315.47,402.40 L315.70,402.40 L315.93,402.40 L316.16,402.40 L316.39,402.40 L316.62,402.40 L316.85,402.40 L317.08,402.40 L317.31,402.40 L317.54,402.40 L317.77,402.40 L318.00,402.40 L318.23,402.40 L318.46,402.40 L318.69,402.40 L318.92,402.40 L319.15,402.40 L319.38,402.40 L319.61,402.40 L319.84,402.40 L320.07,402.40 L320.30,402.40 L320.53,402.40 L320.76,402.40 L320.99,402.40 L321.22,402.40 L321.45,402.40 L321.68,402.40 L321.91,402.40 L322.14,402.40 L322.38,402.40 L322.61,402.40 L322.84,402.40 L323.07,402.40 L323.30,402.40 L323.53,402.40 L323.76,402.40 L323.99,402.40 L324.22,402.40 L324.45,402.40 L324.68,402.40 L324.91,402.40 L325.14,402.40 L325.37,402.40 L325.60,402.40 L325.83,402.40 L326.06,402.40 L326.29,402.40 L326.52,402.40 L326.75,402.40 L326.98,402.40 L327.21,402.40 L327.44,402.40 L327.67,402.40 L327.90,402.40 L328.13,402.40 L328.36,402.40 L328.59,402.40 L328.82,402.40 L329.05,402.40 L329.28,402.40 L329.51,402.40 L329.74,402.40 L329.97,402.40 L330.20,402.40 L330.43,402.40 L330.66,402.40 L330.89,402.40 L331.12,402.40 L331.35,402.40 L331.58,402.40 L331.81,402.40 L332.05,402.40 L332.28,402.40 L332.51,402.40 L332.74,402.40 L332.97,402.40 L333.20,402.40 L333.43,402.40 L333.66,402.40 L333.89,402.40 L334.12,402.40 L334.35,402.40 L334.58,402.40 L334.81,402.40 L335.04,402.40 L335.27,402.40 L335.50,402.40 L335.73,402.40 L335.96,402.40 L336.19,402.40 L336.42,402.40 L336.65,402.40 L336.88,402.40 L337.11,402.40 L337.34,402.40 L337.57,402.40 L337.80,402.40 L338.03,402.40 L338.26,402.40 L338.49,402.40 L338.72,402.40 L338.95,402.40 L339.18,402.40 L339.41,402.40 L339.64,402.40 L339.87,402.40 L340.10,402.40 L340.33,402.40 L340.56,402.40 L340.79,402.40 L341.02,402.40 L341.25,402.40 L341.48,402.40 L341.72,402.40 L341.95,402.40 L342.18,402.40 L342.41,402.40 L342.64,402.40 L342.87,402.40 L343.10,402.40 L343.33,402.40 L343.56,402.40 L343.79,402.40 L344.02,402.40 L344.25,402.40 L344.48,402.40 L344.71,402.40 L344.94,402.40 L345.17,402.40 L345.40,402.40 L345.63,402.40 L345.86,402.40 L346.09,402.40 L346.32,402.40 L346.55,402.40 L346.78,402.40 L347.01,402.40 L347.24,402.40 L347.47,402.40 L347.70,402.40 L347.93,402.40 L348.16,402.40 L348.39,402.40 L348.62,402.40 L348.85,402.40 L349.08,402.40 L349.31,402.40 L349.54,402.40 L349.77,402.40 L350.00,402.40 L350.23,402.40 L350.46,402.40 L350.69,402.40 L350.92,402.40 L351.15,402.40 L351.39,402.40 L351.62,402.40 L351.85,402.40 L352.08,402.40 L352.31,402.40 L352.54,402.40 L352.77,402.40 L353.00,402.40 L353.23,402.40 L353.46,402.40 L353.69,402.40 L353.92,402.40 L354.15,402.40 L354.38,402.40 L354.61,402.40 L354.84,402.40 L355.07,402.40 L355.30,402.40 L355.53,402.40 L355.76,402.40 L355.99,402.40 L356.22,402.40 L356.45,402.40 L356.68,402.40 L356.91,402.40 L357.14,402.40 L357.37,402.40 L357.60,402.40 L357.83,402.40 L358.06,402.40 L358.29,402.40 L358.52,402.40 L358.75,402.40 L358.98,402.40 L359.21,402.40 L359.44,402.40 L359.67,402.40 L359.90,402.40 L360.13,402.40 L360.36,402.40 L360.59,402.40 L360.82,402.40 L361.06,402.40 L361.29,402.40 L361.52,402.40 L361.75,402.40 L361.98,402.40 L362.21,402.40 L362.44,402.40 L362.67,402.40 L362.90,402.40 L363.13,402.40 L363.36,402.40 L363.59,402.40 L363.82,402.40 L364.05,402.40 L364.28,402.40 L364.51,402.40 L364.74,402.40 L364.97,402.40 L365.20,402.40 L365.43,402.40 L365.66,402.40 L365.89,402.40 L366.12,402.40 L366.35,402.40 L366.58,402.40 L366.81,402.40 L367.04,402.40 L367.27,402.40 L367.50,402.40 L367.73,402.40 L367.96,402.40 L368.19,402.40 L368.42,402.40 L368.65,402.40 L368.88,402.40 L369.11,402.40 L369.34,402.40 L369.57,402.40 L369.80,402.40 L370.03,402.40 L370.26,402.40 L370.49,402.40 L370.72,402.40 L370.96,402.40 L371.19,402.40 L371.42,402.40 L371.65,402.40 L371.88,402.40 L372.11,402.40 L372.34,402.40 L372.57,402.40 L372.80,402.40 L373.03,402.40 L373.26,402.40 L373.49,402.40 L373.72,402.40 L373.95,402.40 L374.18,402.40 L374.41,402.40 L374.64,402.40 L374.87,402.40 L375.10,402.40 L375.33,402.40 L375.56,402.40 L375.79,402.40 L376.02,402.40 L376.25,402.40 L376.48,402.40 L376.71,402.40 L376.94,402.40 L377.17,402.40 L377.40,402.40 L377.63,402.40 L377.86,402.40 L378.09,402.40 L378.32,402.40 L378.55,402.40 L378.78,402.40 L379.01,402.40 L379.24,402.40 L379.47,402.40 L379.70,402.40 L379.93,402.40 L380.16,402.40 L380.39,402.40 L380.63,402.40 L380.86,402.40 L381.09,402.40 L381.32,402.40 L381.55,402.40 L381.78,402.40 L382.01,402.40 L382.24,402.40 L382.47,402.40 L382.70,402.40 L382.93,402.40 L383.16,402.40 L383.39,402.40 L383.62,402.40 L383.85,402.40 L384.08,402.40 L384.31,402.40 L384.54,402.40 L384.77,402.40 L385.00,402.40 L385.23,402.40 L385.46,402.40 L385.69,402.40 L385.92,402.40 L386.15,402.40 L386.38,402.40 L386.61,402.40 L386.84,402.40 L387.07,402.40 L387.30,402.40 L387.53,402.40 L387.76,402.40 L387.99,402.40 L388.22,402.40 L388.45,402.40 L388.68,402.40 L388.91,402.40 L389.14,402.40 L389.37,402.40 L389.60,402.40 L389.83,402.40 L390.06,402.40 L390.30,402.40 L390.53,402.40 L390.76,402.40 L390.99,402.40 L391.22,402.40 L391.45,402.40 L391.68,402.40 L391.91,402.40 L392.14,402.40 L392.37,402.40 L392.60,402.40 L392.83,402.40 L393.06,402.40 L393.29,402.40 L393.52,402.40 L393.75,402.40 L393.98,402.40 L394.21,402.40 L394.44,402.40 L394.67,402.40 L394.90,402.40 L395.13,402.40 L395.36,402.40 L395.59,402.40 L395.82,402.40 L396.05,402.40 L396.28,402.40 L396.51,402.40 L396.74,402.40 L396.97,402.40 L397.20,402.40 L397.43,402.40 L397.66,402.40 L397.89,402.40 L398.12,402.40 L398.35,402.40 L398.58,402.40 L398.81,402.40 L399.04,402.40 L399.27,402.40 L399.50,402.40 L399.73,402.40 L399.97,402.40 L400.20,402.40 L400.43,402.40 L400.66,402.40 L400.89,402.40 L401.12,402.40 L401.35,402.40 L401.58,402.40 L401.81,402.40 L402.04,402.40 L402.27,402.40 L402.50,402.40 L402.73,402.40 L402.96,402.40 L403.19,402.40 L403.42,402.40 L403.65,402.40 L403.88,402.40 L404.11,402.40 L404.34,402.40 L404.57,402.40 L404.80,402.40 L405.03,402.40 L405.26,402.40 L405.49,402.40 L405.72,402.40 L405.95,402.40 L406.18,402.40 L406.41,402.40 L406.64,402.40 L406.87,402.40 L407.10,402.40 L407.33,402.40 L407.56,402.40 L407.79,402.40 L408.02,402.40 L408.25,402.40 L408.48,402.40 L408.71,402.40 L408.94,402.40 L409.17,402.40 L409.40,402.40 L409.64,402.40 L409.87,402.40 L410.10,402.40 L410.33,402.40 L410.56,402.40 L410.79,402.40 L411.02,402.40 L411.25,402.40 L411.48,402.40 L411.71,402.40 L411.94,402.40 L412.17,402.40 L412.40,402.40 L412.63,402.40 L412.86,402.40 L413.09,402.40 L413.32,402.40 L413.55,402.40 L413.78,402.40 L414.01,402.40 L414.24,402.40 L414.47,402.40 L414.70,402.40 L414.93,402.40 L415.16,402.40 L415.39,402.40 L415.62,402.40 L415.85,402.40 L416.08,402.40 L416.31,402.40 L416.54,402.40 L416.77,402.40 L417.00,402.40 L417.23,402.40 L417.46,402.40 L417.69,402.40 L417.92,402.40 L418.15,402.40 L418.38,402.40 L418.61,402.40 L418.84,402.40 L419.07,402.40 L419.31,402.40 L419.54,402.40 L419.77,402.40 L420.00,402.40 L420.23,402.40 L420.46,402.40 L420.69,402.40 L420.92,402.40 L421.15,402.40 L421.38,402.40 L421.61,402.40 L421.84,402.40 L422.07,402.40 L422.30,402.40 L422.53,402.40 L422.76,402.40 L422.99,402.40 L423.22,402.40 L423.45,402.40 L423.68,402.40 L423.91,402.40 L424.14,402.40 L424.37,402.40 L424.60,402.40 L424.83,402.40 L425.06,402.40 L425.29,402.40 L425.52,402.40 L425.75,402.40 L425.98,402.40 L426.21,402.40 L426.44,402.40 L426.67,402.40 L426.90,402.40 L427.13,402.40 L427.36,402.40 L427.59,402.40 L427.82,402.40 L428.05,402.40 L428.28,402.40 L428.51,402.40 L428.74,402.40 L428.98,402.40 L429.21,402.40 L429.44,402.40 L429.67,402.40 L429.90,402.40 L430.13,402.40 L430.36,402.40 L430.59,402.40 L430.82,402.40 L431.05,402.40 L431.28,402.40 L431.51,402.40 L431.74,402.40 L431.97,402.40 L432.20,402.40 L432.43,402.40 L432.66,402.40 L432.89,402.40 L433.12,402.40 L433.35,402.40 L433.58,402.40 L433.81,402.40 L434.04,402.40 L434.27,402.40 L434.50,402.40 L434.73,402.40 L434.96,402.40 L435.19,402.40 L435.42,402.40 L435.65,402.40 L435.88,402.40 L436.11,402.40 L436.34,402.40 L436.57,402.40 L436.80,402.40 L437.03,402.40 L437.26,402.40 L437.49,402.40 L437.72,402.40 L437.95,402.40 L438.18,402.40 L438.41,402.40 L438.65,402.40 L438.88,402.40 L439.11,402.40 L439.34,402.40 L439.57,402.40 L439.80,402.40 L440.03,402.40 L440.26,402.40 L440.49,402.40 L440.72,402.40 L440.95,402.40 L441.18,402.40 L441.41,402.40 L441.64,402.40 L441.87,402.40 L442.10,402.40 L442.33,402.40 L442.56,402.40 L442.79,402.40 L443.02,402.40 L443.25,402.40 L443.48,402.40 L443.71,402.40 L443.94,402.40 L444.17,402.40 L444.40,402.40 L444.63,402.40 L444.86,402.40 L445.09,402.40 L445.32,402.40 L445.55,402.40 L445.78,402.40 L446.01,402.40 L446.24,402.40 L446.47,402.40 L446.70,402.40 L446.93,402.40 L447.16,402.40 L447.39,402.40 L447.62,402.40 L447.85,402.40 L448.08,402.40 L448.32,402.40 L448.55,402.40 L448.78,402.40 L449.01,402.40 L449.24,402.40 L449.47,402.40 L449.70,402.40 L449.93,402.40 L450.16,402.40 L450.39,402.40 L450.62,402.40 L450.85,402.40 L451.08,402.40 L451.31,402.40 L451.54,402.40 L451.77,402.40 L452.00,402.40 L452.23,402.40 L452.46,402.40 L452.69,402.40 L452.92,402.40 L453.15,402.40 L453.38,402.40 L453.61,402.40 L453.84,402.40 L454.07,402.40 L454.30,402.40 L454.53,402.40 L454.76,402.40 L454.99,402.40 L455.22,402.40 L455.45,402.40 L455.68,402.40 L455.91,402.40 L456.14,402.40 L456.37,402.40 L456.60,402.40 L456.83,402.40 L457.06,402.40 L457.29,402.40 L457.52,402.40 L457.75,402.40 L457.98,402.40 L458.22,402.40 L458.45,402.40 L458.68,402.40 L458.91,402.40 L459.14,402.40 L459.37,402.40 L459.60,402.40 L459.83,402.40 L460.06,402.40 L460.29,402.40 L460.52,402.40 L460.75,402.40 L460.98,402.40 L461.21,402.40 L461.44,402.40 L461.67,402.40 L461.90,402.40 L462.13,402.40 L462.36,402.40 L462.59,402.40 L462.82,402.40 L463.05,402.40 L463.28,402.40 L463.51,402.40 L463.74,402.40 L463.97,402.40 L464.20,402.40 L464.43,402.40 L464.66,402.40 L464.89,402.40 L465.12,402.40 L465.35,402.40 L465.58,402.40 L465.81,402.40 L466.04,402.39 L466.27,402.39 L466.50,402.39 L466.73,402.39 L466.96,402.39 L467.19,402.39 L467.42,402.39 L467.65,402.39 L467.89,402.39 L468.12,402.39 L468.35,402.39 L468.58,402.39 L468.81,402.39 L469.04,402.39 L469.27,402.39 L469.50,402.39 L469.73,402.39 L469.96,402.39 L470.19,402.39 L470.42,402.39 L470.65,402.39 L470.88,402.39 L471.11,402.39 L471.34,402.38 L471.57,402.38 L471.80,402.38 L472.03,402.38 L472.26,402.38 L472.49,402.38 L472.72,402.38 L472.95,402.38 L473.18,402.38 L473.41,402.38 L473.64,402.38 L473.87,402.37 L474.10,402.37 L474.33,402.37 L474.56,402.37 L474.79,402.37 L475.02,402.37 L475.25,402.37 L475.48,402.36 L475.71,402.36 L475.94,402.36 L476.17,402.36 L476.40,402.36 L476.63,402.35 L476.86,402.35 L477.09,402.35 L477.32,402.35 L477.56,402.35 L477.79,402.34 L478.02,402.34 L478.25,402.34 L478.48,402.33 L478.71,402.33 L478.94,402.33 L479.17,402.32 L479.40,402.32 L479.63,402.32 L479.86,402.31 L480.09,402.31 L480.32,402.31 L480.55,402.30 L480.78,402.30 L481.01,402.29 L481.24,402.29 L481.47,402.28 L481.70,402.27 L481.93,402.27 L482.16,402.26 L482.39,402.26 L482.62,402.25 L482.85,402.24 L483.08,402.24 L483.31,402.23 L483.54,402.22 L483.77,402.21 L484.00,402.20 L484.23,402.19 L484.46,402.18 L484.69,402.17 L484.92,402.16 L485.15,402.15 L485.38,402.14 L485.61,402.13 L485.84,402.11 L486.07,402.10 L486.30,402.09 L486.53,402.07 L486.76,402.06 L486.99,402.04 L487.23,402.03 L487.46,402.01 L487.69,401.99 L487.92,401.97 L488.15,401.95 L488.38,401.93 L488.61,401.91 L488.84,401.89 L489.07,401.86 L489.30,401.84 L489.53,401.81 L489.76,401.79 L489.99,401.76 L490.22,401.73 L490.45,401.70 L490.68,401.67 L490.91,401.63 L491.14,401.60 L491.37,401.56 L491.60,401.52 L491.83,401.48 L492.06,401.44 L492.29,401.40 L492.52,401.35 L492.75,401.30 L492.98,401.25 L493.21,401.20 L493.44,401.15 L493.67,401.09 L493.90,401.03 L494.13,400.97 L494.36,400.90 L494.59,400.84 L494.82,400.77 L495.05,400.69 L495.28,400.62 L495.51,400.54 L495.74,400.45 L495.97,400.36 L496.20,400.27 L496.43,400.18 L496.66,400.08 L496.90,399.97 L497.13,399.86 L497.36,399.75 L497.59,399.63 L497.82,399.51 L498.05,399.38 L498.28,399.24 L498.51,399.10 L498.74,398.96 L498.97,398.80 L499.20,398.64 L499.43,398.48 L499.66,398.30 L499.89,398.12 L500.12,397.93 L500.35,397.73 L500.58,397.53 L500.81,397.31 L501.04,397.09 L501.27,396.85 L501.50,396.61 L501.73,396.35 L501.96,396.08 L502.19,395.81 L502.42,395.51 L502.65,395.21 L502.88,394.90 L503.11,394.57 L503.34,394.22 L503.57,393.86 L503.80,393.49 L504.03,393.10 L504.26,392.69 L504.49,392.27 L504.72,391.82 L504.95,391.36 L505.18,390.88 L505.41,390.38 L505.64,389.85 L505.87,389.31 L506.10,388.74 L506.33,388.14 L506.57,387.52 L506.80,386.88 L507.03,386.21 L507.26,385.50 L507.49,384.77 L507.72,384.01 L507.95,383.21 L508.18,382.38 L508.41,381.52 L508.64,380.62 L508.87,379.68 L509.10,378.70 L509.33,377.67 L509.56,376.61 L509.79,375.50 L510.02,374.34 L510.25,373.14 L510.48,371.88 L510.71,370.57 L510.94,369.21 L511.17,367.79 L511.40,366.31 L511.63,364.76 L511.86,363.15 L512.09,361.48 L512.32,359.73 L512.55,357.91 L512.78,356.02 L513.01,354.04 L513.24,351.98 L513.47,349.84 L513.70,347.60 L513.93,345.28 L514.16,342.85 L514.39,340.33 L514.62,337.69 L514.85,334.95 L515.08,332.10 L515.31,329.13 L515.54,326.03 L515.77,322.80 L516.00,319.45 L516.24,315.95 L516.47,312.30 L516.70,308.51 L516.93,304.56 L517.16,300.44 L517.39,296.16 L517.62,291.70 L517.85,287.05 L518.08,282.21 L518.31,277.18 L518.54,271.93 L518.77,266.47 L519.00,260.79 L519.23,254.87 L519.46,248.71 L519.69,242.29 L519.92,235.62 L520.15,228.67 L520.38,221.43 L520.61,213.90 L520.84,206.06 L521.07,197.90 L521.30,189.41 L521.53,180.57 L521.76,171.37 L521.99,161.79 L522.22,151.83 L522.45,141.46 L522.68,130.66 L522.91,119.43 L523.14,107.75 L523.37,95.58 L523.60,82.93 L523.83,69.76 L524.06,56.06 L524.29,41.81 L524.52,26.97 L524.75,11.54 L524.98,-4.51 L525.21,-21.22 L525.44,-38.59 L525.67,-56.67 L525.91,-75.48 L526.14,-95.04 L526.37,-115.39 L526.60,-136.55 L526.83,-158.57" stroke="#3E578A"/>
</g>
<g stroke="#000" stroke-width="2.3" fill="none">
<path d="M181.7,17.90 V786.90"/>
<path d="M180.55,402.45 H823.29"/>
<path d="M176.50,785.75 H181.7"/>
<path d="M172.20,709.08 H181.7"/>
<path d="M176.50,632.41 H181.7"/>
<path d="M172.20,555.74 H181.7"/>
<path d="M176.50,479.07 H181.7"/>
<path d="M172.20,402.40 H181.7"/>
<path d="M176.50,325.73 H181.7"/>
<path d="M172.20,249.06 H181.7"/>
<path d="M176.50,172.39 H181.7"/>
<path d="M172.20,95.72 H181.7"/>
<path d="M176.50,19.05 H181.7"/>
<path d="M217.28,402.5 v5.1"/>
<path d="M252.86,402.5 v9.4"/>
<path d="M288.44,402.5 v5.1"/>
<path d="M324.02,402.5 v9.4"/>
<path d="M359.60,402.5 v5.1"/>
<path d="M395.18,402.5 v9.4"/>
<path d="M430.76,402.5 v5.1"/>
<path d="M466.34,402.5 v9.4"/>
<path d="M501.92,402.5 v5.1"/>
<path d="M537.50,402.5 v9.4"/>
<path d="M573.08,402.5 v5.1"/>
<path d="M608.66,402.5 v9.4"/>
<path d="M644.24,402.5 v5.1"/>
<path d="M679.82,402.5 v9.4"/>
<path d="M715.40,402.5 v5.1"/>
<path d="M750.98,402.5 v9.4"/>
<path d="M786.56,402.5 v5.1"/>
<path d="M822.14,402.5 v9.4"/>
</g>
<g fill="none" stroke-width="3.3" clip-path="url(#cp)" stroke-linejoin="round">
<path d="M184.28,755.85 L184.29,755.27 L184.30,754.68 L184.31,754.10 L184.32,753.52 L184.33,752.93 L184.34,752.35 L184.35,751.77 L184.36,751.18 L184.37,750.60 L184.38,750.02 L184.39,749.43 L184.40,748.85 L184.41,748.26 L184.42,747.68 L184.43,747.10 L184.44,746.51 L184.46,745.93 L184.47,745.34 L184.48,744.76 L184.49,744.17 L184.50,743.59 L184.51,743.00 L184.52,742.42 L184.53,741.83 L184.55,741.25 L184.56,740.66 L184.57,740.08 L184.58,739.49 L184.59,738.90 L184.60,738.32 L184.62,737.73 L184.63,737.15 L184.64,736.56 L184.65,735.97 L184.66,735.39 L184.68,734.80 L184.69,734.21 L184.70,733.63 L184.71,733.04 L184.73,732.45 L184.74,731.86 L184.75,731.28 L184.76,730.69 L184.78,730.10 L184.79,729.51 L184.80,728.93 L184.81,728.34 L184.83,727.75 L184.84,727.16 L184.85,726.57 L184.87,725.98 L184.88,725.40 L184.89,724.81 L184.91,724.22 L184.92,723.63 L184.93,723.04 L184.95,722.45 L184.96,721.86 L184.97,721.27 L184.99,720.68 L185.00,720.09 L185.01,719.50 L185.03,718.91 L185.04,718.32 L185.06,717.73 L185.07,717.14 L185.09,716.55 L185.10,715.96 L185.11,715.37 L185.13,714.78 L185.14,714.19 L185.16,713.59 L185.17,713.00 L185.19,712.41 L185.20,711.82 L185.22,711.23 L185.23,710.64 L185.25,710.04 L185.26,709.45 L185.28,708.86 L185.29,708.27 L185.31,707.67 L185.32,707.08 L185.34,706.49 L185.35,705.89 L185.37,705.30 L185.39,704.71 L185.40,704.11 L185.42,703.52 L185.43,702.92 L185.45,702.33 L185.47,701.73 L185.48,701.14 L185.50,700.55 L185.51,699.95 L185.53,699.36 L185.55,698.76 L185.56,698.16 L185.58,697.57 L185.60,696.97 L185.61,696.38 L185.63,695.78 L185.65,695.18 L185.67,694.59 L185.68,693.99 L185.70,693.39 L185.72,692.80 L185.74,692.20 L185.75,691.60 L185.77,691.01 L185.79,690.41 L185.81,689.81 L185.83,689.21 L185.84,688.61 L185.86,688.02 L185.88,687.42 L185.90,686.82 L185.92,686.22 L185.94,685.62 L185.95,685.02 L185.97,684.42 L185.99,683.82 L186.01,683.22 L186.03,682.62 L186.05,682.02 L186.07,681.42 L186.09,680.82 L186.11,680.22 L186.13,679.62 L186.15,679.02 L186.17,678.42 L186.19,677.81 L186.21,677.21 L186.23,676.61 L186.25,676.01 L186.27,675.41 L186.29,674.80 L186.31,674.20 L186.33,673.60 L186.35,672.99 L186.37,672.39 L186.39,671.79 L186.41,671.18 L186.43,670.58 L186.45,669.97 L186.47,669.37 L186.50,668.76 L186.52,668.16 L186.54,667.55 L186.56,666.95 L186.58,666.34 L186.60,665.74 L186.63,665.13 L186.65,664.53 L186.67,663.92 L186.69,663.31 L186.72,662.71 L186.74,662.10 L186.76,661.49 L186.78,660.88 L186.81,660.27 L186.83,659.67 L186.85,659.06 L186.88,658.45 L186.90,657.84 L186.92,657.23 L186.95,656.62 L186.97,656.01 L187.00,655.40 L187.02,654.79 L187.04,654.18 L187.07,653.57 L187.09,652.96 L187.12,652.35 L187.14,651.74 L187.17,651.13 L187.19,650.52 L187.22,649.90 L187.24,649.29 L187.27,648.68 L187.29,648.07 L187.32,647.45 L187.35,646.84 L187.37,646.23 L187.40,645.61 L187.42,645.00 L187.45,644.38 L187.48,643.77 L187.50,643.15 L187.53,642.54 L187.56,641.92 L187.58,641.31 L187.61,640.69 L187.64,640.08 L187.67,639.46 L187.69,638.84 L187.72,638.22 L187.75,637.61 L187.77,636.99 L187.80,636.37 L187.83,635.75 L187.86,635.13 L187.88,634.52 L187.91,633.90 L187.94,633.28 L187.97,632.66 L187.99,632.04 L188.02,631.42 L188.05,630.80 L188.08,630.17 L188.11,629.55 L188.13,628.93 L188.16,628.31 L188.19,627.69 L188.22,627.07 L188.24,626.44 L188.27,625.82 L188.30,625.20 L188.33,624.57 L188.36,623.95 L188.38,623.32 L188.41,622.70 L188.44,622.07 L188.47,621.45 L188.50,620.82 L188.53,620.20 L188.56,619.57 L188.58,618.94 L188.61,618.32 L188.64,617.69 L188.67,617.06 L188.70,616.43 L188.73,615.80 L188.76,615.18 L188.79,614.55 L188.82,613.92 L188.85,613.29 L188.88,612.66 L188.91,612.03 L188.94,611.40 L188.97,610.76 L189.00,610.13 L189.03,609.50 L189.06,608.87 L189.09,608.24 L189.12,607.60 L189.15,606.97 L189.18,606.34 L189.21,605.70 L189.24,605.07 L189.27,604.43 L189.31,603.80 L189.34,603.16 L189.37,602.52 L189.40,601.89 L189.43,601.25 L189.46,600.61 L189.50,599.98 L189.53,599.34 L189.56,598.70 L189.60,598.06 L189.63,597.42 L189.66,596.78 L189.69,596.14 L189.73,595.50 L189.76,594.86 L189.80,594.22 L189.83,593.58 L189.86,592.93 L189.90,592.29 L189.93,591.65 L189.97,591.01 L190.00,590.36 L190.04,589.72 L190.07,589.07 L190.11,588.43 L190.15,587.78 L190.18,587.14 L190.22,586.49 L190.25,585.84 L190.29,585.19 L190.33,584.55 L190.37,583.90 L190.40,583.25 L190.44,582.60 L190.48,581.95 L190.52,581.30 L190.56,580.65 L190.59,580.00 L190.63,579.35 L190.67,578.69 L190.71,578.04 L190.75,577.39 L190.79,576.74 L190.83,576.08 L190.87,575.43 L190.91,574.77 L190.96,574.12 L191.00,573.46 L191.04,572.80 L191.08,572.15 L191.12,571.49 L191.16,570.83 L191.21,570.17 L191.25,569.51 L191.29,568.85 L191.34,568.19 L191.38,567.53 L191.43,566.87 L191.47,566.21 L191.52,565.55 L191.56,564.89 L191.61,564.22 L191.65,563.56 L191.70,562.89 L191.75,562.23 L191.79,561.56 L191.84,560.90 L191.89,560.23 L191.94,559.56 L191.99,558.90 L192.04,558.23 L192.08,557.56 L192.13,556.89 L192.18,556.22 L192.23,555.55 L192.29,554.88 L192.34,554.21 L192.39,553.54 L192.44,552.86 L192.49,552.19 L192.55,551.51 L192.60,550.84 L192.65,550.16 L192.71,549.49 L192.76,548.81 L192.82,548.13 L192.87,547.46 L192.93,546.78 L192.98,546.10 L193.04,545.42 L193.10,544.74 L193.15,544.06 L193.21,543.38 L193.27,542.69 L193.33,542.01 L193.39,541.33 L193.45,540.64 L193.51,539.96 L193.57,539.27 L193.63,538.59 L193.69,537.90 L193.75,537.21 L193.81,536.53 L193.88,535.84 L193.94,535.15 L194.00,534.46 L194.06,533.77 L194.13,533.07 L194.19,532.38 L194.26,531.69 L194.32,530.99 L194.39,530.30 L194.45,529.60 L194.52,528.91 L194.58,528.21 L194.65,527.51 L194.71,526.82 L194.78,526.12 L194.85,525.42 L194.92,524.72 L194.98,524.02 L195.05,523.31 L195.12,522.61 L195.19,521.91 L195.26,521.20 L195.33,520.50 L195.40,519.79 L195.47,519.09 L195.54,518.38 L195.61,517.67 L195.68,516.96 L195.75,516.25 L195.83,515.54 L195.90,514.83 L195.97,514.12 L196.04,513.40 L196.12,512.69 L196.19,511.97 L196.27,511.26 L196.34,510.54 L196.42,509.82 L196.49,509.11 L196.57,508.39 L196.65,507.67 L196.72,506.95 L196.80,506.22 L196.88,505.50 L196.95,504.78 L197.03,504.05 L197.11,503.33 L197.19,502.60 L197.27,501.88 L197.35,501.15 L197.43,500.42 L197.51,499.69 L197.59,498.96 L197.67,498.23 L197.76,497.49 L197.84,496.76 L197.92,496.03 L198.00,495.29 L198.09,494.55 L198.17,493.82 L198.26,493.08 L198.34,492.34 L198.43,491.60 L198.51,490.86 L198.60,490.11 L198.69,489.37 L198.77,488.63 L198.86,487.88 L198.95,487.13 L199.04,486.39 L199.13,485.64 L199.22,484.89 L199.31,484.14 L199.40,483.39 L199.49,482.63 L199.58,481.88 L199.67,481.12 L199.76,480.37 L199.86,479.61 L199.95,478.85 L200.04,478.09 L200.14,477.33 L200.23,476.57 L200.33,475.81 L200.42,475.05 L200.52,474.28 L200.62,473.51 L200.71,472.75 L200.81,471.98 L200.91,471.21 L201.01,470.44 L201.11,469.67 L201.21,468.89 L201.31,468.12 L201.41,467.34 L201.51,466.57 L201.61,465.79 L201.71,465.01 L201.82,464.23 L201.92,463.45 L202.02,462.66 L202.13,461.88 L202.23,461.09 L202.34,460.31 L202.44,459.52 L202.55,458.73 L202.66,457.94 L202.76,457.15 L202.87,456.36 L202.98,455.56 L203.09,454.76 L203.20,453.97 L203.31,453.17 L203.42,452.37 L203.53,451.57 L203.65,450.77 L203.76,449.96 L203.87,449.16 L203.98,448.35 L204.10,447.54 L204.21,446.73 L204.33,445.92 L204.45,445.11 L204.56,444.29 L204.68,443.48 L204.80,442.66 L204.92,441.84 L205.04,441.02 L205.16,440.20 L205.28,439.38 L205.40,438.56 L205.52,437.73 L205.64,436.90 L205.76,436.07 L205.89,435.24 L206.01,434.41 L206.14,433.58 L206.26,432.74 L206.39,431.91 L206.52,431.07 L206.64,430.23 L206.77,429.39 L206.90,428.54 L207.03,427.70 L207.16,426.85 L207.29,426.00 L207.42,425.16 L207.55,424.30 L207.69,423.45 L207.82,422.60 L207.95,421.74 L208.09,420.88 L208.22,420.02 L208.36,419.16 L208.50,418.30 L208.64,417.43 L208.77,416.56 L208.91,415.70 L209.05,414.82 L209.19,413.95 L209.33,413.08 L209.48,412.20 L209.62,411.32 L209.76,410.44 L209.91,409.56 L210.05,408.68 L210.20,407.79 L210.34,406.91 L210.49,406.02 L210.64,405.13 L210.79,404.23 L210.94,403.34 L211.09,402.44 L211.24,401.54 L211.39,400.64 L211.54,399.74 L211.69,398.83 L211.85,397.93 L212.00,397.02 L212.16,396.11 L212.32,395.19 L212.47,394.28 L212.63,393.36 L212.79,392.44 L212.95,391.52 L213.11,390.59 L213.27,389.67 L213.43,388.74 L213.60,387.81 L213.76,386.88 L213.92,385.94 L214.09,385.00 L214.26,384.06 L214.42,383.12 L214.59,382.18 L214.76,381.23 L214.93,380.28 L215.10,379.33 L215.27,378.38 L215.44,377.42 L215.62,376.47 L215.79,375.51 L215.97,374.54 L216.14,373.58 L216.32,372.61 L216.50,371.64 L216.68,370.67 L216.86,369.69 L217.04,368.72 L217.22,367.74 L217.40,366.75 L217.58,365.77 L217.77,364.78 L217.95,363.79 L218.14,362.80 L218.33,361.80 L218.51,360.80 L218.70,359.80 L218.89,358.80 L219.08,357.79 L219.28,356.78 L219.47,355.77 L219.66,354.76 L219.86,353.74 L220.05,352.72 L220.25,351.70 L220.45,350.67 L220.65,349.64 L220.85,348.61 L221.05,347.58 L221.25,346.54 L221.45,345.50 L221.66,344.46 L221.86,343.41 L222.07,342.36 L222.28,341.31 L222.49,340.26 L222.70,339.20 L222.91,338.14 L223.12,337.07 L223.33,336.01 L223.54,334.94 L223.76,333.86 L223.97,332.79 L224.19,331.71 L224.41,330.62 L224.63,329.54 L224.85,328.45 L225.07,327.35 L225.29,326.26 L225.52,325.16 L225.74,324.05 L225.97,322.95 L226.20,321.84 L226.43,320.72 L226.65,319.61 L226.89,318.49 L227.12,317.36 L227.35,316.24 L227.59,315.11 L227.82,313.97 L228.06,312.83 L228.30,311.69 L228.54,310.55 L228.78,309.40 L229.02,308.24 L229.26,307.09 L229.50,305.93 L229.75,304.76 L230.00,303.60 L230.24,302.43 L230.49,301.25 L230.74,300.07 L231.00,298.89 L231.25,297.70 L231.50,296.51 L231.76,295.31 L232.02,294.11 L232.28,292.91 L232.54,291.70 L232.80,290.49 L233.06,289.28 L233.32,288.06 L233.59,286.83 L233.85,285.60 L234.12,284.37 L234.39,283.13 L234.66,281.89 L234.93,280.65 L235.21,279.40 L235.48,278.14 L235.76,276.88 L236.04,275.62 L236.31,274.35 L236.60,273.08 L236.88,271.80 L237.16,270.52 L237.45,269.23 L237.73,267.94 L238.02,266.65 L238.31,265.35 L238.60,264.04 L238.89,262.73 L239.19,261.42 L239.48,260.10 L239.78,258.77 L240.08,257.44 L240.37,256.11 L240.68,254.77 L240.98,253.42 L241.28,252.07 L241.59,250.71 L241.90,249.35 L242.21,247.99 L242.52,246.62 L242.83,245.24 L243.14,243.86 L243.46,242.47 L243.78,241.08 L244.09,239.68 L244.42,238.28 L244.74,236.87 L245.06,235.45 L245.39,234.03 L245.71,232.61 L246.04,231.17 L246.37,229.74 L246.70,228.29 L247.04,226.84 L247.37,225.39 L247.71,223.93 L248.05,222.46 L248.39,220.99 L248.73,219.51 L249.08,218.02 L249.42,216.53 L249.77,215.03 L250.12,213.53 L250.47,212.02 L250.83,210.50 L251.18,208.98 L251.54,207.45 L251.90,205.91 L252.26,204.37 L252.62,202.82 L252.98,201.26 L253.35,199.70 L253.72,198.13 L254.09,196.56 L254.46,194.97 L254.83,193.38 L255.21,191.79 L255.59,190.18 L255.96,188.57 L256.35,186.95 L256.73,185.33 L257.11,183.70 L257.50,182.06 L257.89,180.41 L258.28,178.75 L258.68,177.09 L259.07,175.42 L259.47,173.74 L259.87,172.06 L260.27,170.37 L260.67,168.67 L261.08,166.96 L261.49,165.24 L261.90,163.52 L262.31,161.79 L262.72,160.05 L263.14,158.30 L263.56,156.54 L263.98,154.78 L264.40,153.00 L264.82,151.22 L265.25,149.43 L265.68,147.64 L266.11,145.83 L266.54,144.01 L266.98,142.19 L267.42,140.36 L267.86,138.51 L268.30,136.66 L268.75,134.80 L269.19,132.93 L269.64,131.06 L270.09,129.17 L270.55,127.27 L271.00,125.37 L271.46,123.45 L271.92,121.53 L272.39,119.59 L272.85,117.65 L273.32,115.70 L273.79,113.73 L274.26,111.76 L274.74,109.78 L275.22,107.78 L275.70,105.78 L276.18,103.77 L276.66,101.74 L277.15,99.71 L277.64,97.66 L278.14,95.61 L278.63,93.54 L279.13,91.47 L279.63,89.38 L280.13,87.28 L280.64,85.17 L281.14,83.05 L281.66,80.92 L282.17,78.78 L282.68,76.62 L283.20,74.46 L283.72,72.28 L284.25,70.09 L284.78,67.89 L285.30,65.68 L285.84,63.46 L286.37,61.22 L286.91,58.98 L287.45,56.72 L287.99,54.44 L288.54,52.16 L289.09,49.86 L289.64,47.55 L290.19,45.23 L290.75,42.90 L291.31,40.55 L291.87,38.19 L292.44,35.81 L293.01,33.43 L293.58,31.03 L294.15,28.61 L294.73,26.19 L295.31,23.75 L295.89,21.29 L296.48,18.82 L297.07,16.34 L297.66,13.84 L298.26,11.33 L298.86,8.81 L299.46,6.27 L300.06,3.72" stroke="#000E78" stroke-dasharray="22.47 10.98 4.5 10.99" stroke-dashoffset="0.2"/>
</g>
<g font-family="Liberation Serif, serif" font-size="27" fill="#000">
<text transform="translate(168.2,103.72) scale(0.985,1)" text-anchor="end">40</text>
<text transform="translate(168.2,257.06) scale(0.985,1)" text-anchor="end">20</text>
<text transform="translate(168.2,410.40) scale(0.985,1)" text-anchor="end">0</text>
<text transform="translate(168.2,563.74) scale(0.985,1)" text-anchor="end">20</text>
<rect x="119.1" y="554.64" width="18" height="1.8"/>
<text transform="translate(168.2,717.08) scale(0.985,1)" text-anchor="end">40</text>
<rect x="119.1" y="707.98" width="18" height="1.8"/>
<text transform="translate(252.26,436.5) scale(0.965,1)" text-anchor="middle">0.2</text>
<text transform="translate(323.42,436.5) scale(0.965,1)" text-anchor="middle">0.4</text>
<text transform="translate(394.58,436.5) scale(0.965,1)" text-anchor="middle">0.6</text>
<text transform="translate(465.74,436.5) scale(0.965,1)" text-anchor="middle">0.8</text>
<text transform="translate(535.70,436.5) scale(0.965,1)" text-anchor="middle">1</text>
<text transform="translate(608.06,436.5) scale(0.965,1)" text-anchor="middle">1.2</text>
<text transform="translate(679.22,436.5) scale(0.965,1)" text-anchor="middle">1.4</text>
<text transform="translate(750.38,436.5) scale(0.965,1)" text-anchor="middle">1.6</text>
<text transform="translate(821.54,436.5) scale(0.965,1)" text-anchor="middle">1.8</text>
</g>
<g font-family="Liberation Serif, serif" font-size="21" fill="#000" font-style="italic">
<text x="11.6" y="212.6"><tspan>V</tspan><tspan font-style="normal" dx="2.3">(</tspan><tspan dx="0.8">T</tspan><tspan font-style="normal" dx="0.8">)</tspan></text>
<rect x="63" y="204.9" width="15" height="1.6"/>
<text x="85" y="212.4">V</text>
<text x="97.5" y="223.4" font-size="15.5">0</text>
<text x="482.2" y="461.2"><tspan>r</tspan><tspan font-style="normal" dx="-0.6">(</tspan><tspan dx="0.7">T</tspan><tspan font-style="normal" dx="0.2">)</tspan></text>
</g>
<rect x="28.5" y="814.8" width="787.1" height="39.8" fill="#fff" stroke="#000" stroke-width="2.4"/>
<g fill="none" stroke-width="3.3">
<path d="M37.2,834.6 H113.2" stroke="#78000E" stroke-dasharray="4.5 11"/>
<path d="M246.1,834.6 H322" stroke="#000E78" stroke-dasharray="22.5 11 4.5 11"/>
<path d="M459.5,834.6 H535.1" stroke="#4A7800" stroke-dasharray="33.5 11"/>
<path d="M677.7,834.6 H753" stroke="#3E578A"/>
</g>
<g font-family="Liberation Serif, serif" font-size="27" fill="#000">
<text x="117.3" y="843.6" textLength="123.1" lengthAdjust="spacingAndGlyphs">Power-Law</text>
<text x="326.7" y="843.6" textLength="127.9" lengthAdjust="spacingAndGlyphs">Exponential</text>
<text x="539.6" y="843.6" textLength="131.3" lengthAdjust="spacingAndGlyphs">Logarithmic</text>
<text x="757.3" y="843.6" textLength="55.5" lengthAdjust="spacingAndGlyphs">p&gt;&gt;1</text>
</g>
</svg>
</body></html>
